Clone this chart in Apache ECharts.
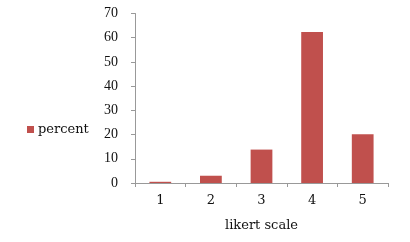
<!DOCTYPE html>
<html><head><meta charset="utf-8">
<script src="https://cdn.jsdelivr.net/npm/echarts@6/dist/echarts.min.js"></script>
<style>html,body{margin:0;padding:0;background:#fff}#c{width:410px;height:242px}</style>
</head><body><div id="c"></div>
<script>
const categories = ['1','2','3','4','5'];
const percentValues = [0.5, 3.0, 13.8, 62.4, 20.1];
const yTicks = [0,10,20,30,40,50,60,70];

const chart = echarts.init(document.getElementById('c'), null, {renderer:'canvas'});
const serif = '"DejaVu Serif", serif';
const ySerif = '"Liberation Serif", serif';
chart.setOption({
  animation:false,
  backgroundColor:'#fff',
  grid:{left:135, right:22, top:13.5, bottom:59, containLabel:false},
  legend:{
    data:['percent'], left:22, top:118, orient:'vertical',
    icon:'rect', itemWidth:7, itemHeight:7, itemGap:4,
    textStyle:{fontFamily:serif, fontSize:13, color:'#111', padding:[0,0,0,-1]}
  },
  xAxis:{
    type:'category', data:categories,
    name:'likert scale', nameLocation:'middle', nameGap:36,
    nameTextStyle:{fontFamily:serif, fontSize:13, color:'#111'},
    axisLine:{lineStyle:{color:'#999', width:1}},
    axisTick:{show:true, length:4, lineStyle:{color:'#999'}, alignWithLabel:false},
    axisLabel:{fontFamily:serif, fontSize:13, color:'#111', margin:11}
  },
  yAxis:{
    type:'value', min:yTicks[0], max:yTicks[yTicks.length-1], interval:10,
    splitLine:{show:false},
    axisLine:{show:true, lineStyle:{color:'#999', width:1}},
    axisTick:{show:true, length:4, lineStyle:{color:'#999'}},
    axisLabel:{fontFamily:ySerif, fontSize:14, color:'#111', margin:17}
  },
  series:[{
    name:'percent', type:'bar', data:percentValues, barWidth:'43%',
    itemStyle:{color:'#C0504D'}
  }]
});
</script></body></html>
